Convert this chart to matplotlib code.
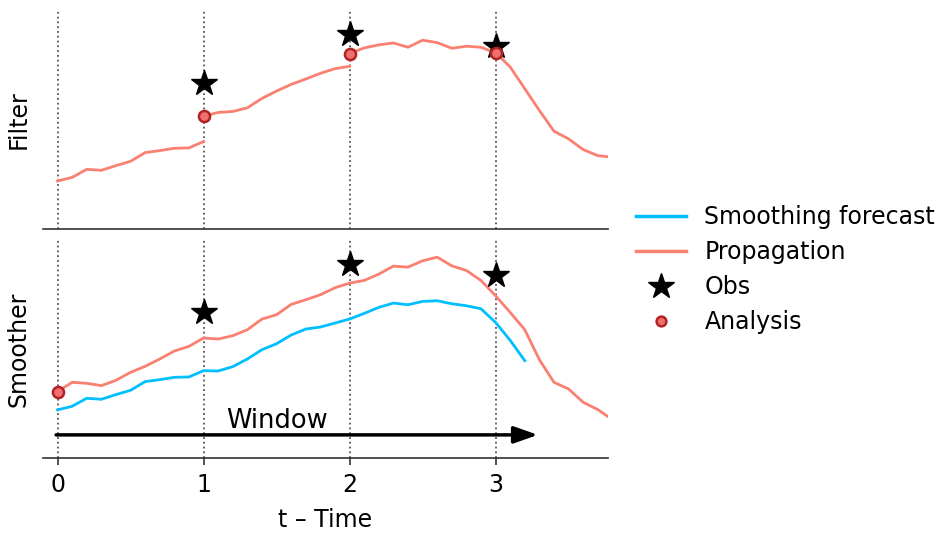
import numpy as np
import matplotlib
matplotlib.use("Agg")
import matplotlib.pyplot as plt
from matplotlib.lines import Line2D

# Observation and analysis times
obs_times = [1, 2, 3]
obs_values = [4.37, 5.83, 5.48]

# Filter: forecast segments between analyses (step 0.1 in time)
filt_seg1 = [1.44, 1.55, 1.79, 1.76, 1.90, 2.03, 2.29, 2.35, 2.42, 2.43, 2.62]          # t 0.0 .. 1.0
filt_seg2 = [3.38, 3.49, 3.52, 3.63, 3.91, 4.13, 4.33, 4.49, 4.66, 4.80, 4.87]          # t 1.0 .. 2.0
filt_seg3 = [5.25, 5.42, 5.51, 5.57, 5.44, 5.65, 5.58, 5.41, 5.47, 5.44, 5.27]          # t 2.0 .. 3.0
filt_seg4 = [5.28, 4.85, 4.20, 3.55, 2.93, 2.70, 2.38, 2.20, 2.15]                      # t 3.0 .. 3.8
filt_analysis = [3.38, 5.25, 5.28]                                                      # at t = 1, 2, 3

# Smoother
smooth_forecast = [1.44, 1.55, 1.79, 1.76, 1.90, 2.03, 2.29, 2.35, 2.42, 2.43, 2.62,
                   2.61, 2.74, 2.97, 3.25, 3.43, 3.69, 3.87, 3.93, 4.05, 4.17,
                   4.34, 4.52, 4.65, 4.60, 4.70, 4.72, 4.63, 4.57, 4.48, 4.07,
                   3.53, 2.92]                                                          # t 0.0 .. 3.2
smooth_prop = [1.99, 2.27, 2.24, 2.17, 2.33, 2.57, 2.75, 2.97, 3.21, 3.35, 3.60,
               3.57, 3.67, 3.85, 4.17, 4.30, 4.61, 4.75, 4.90, 5.11, 5.25,
               5.33, 5.52, 5.76, 5.73, 5.92, 6.03, 5.77, 5.63, 5.33, 4.87,
               4.37, 3.85, 2.95, 2.27, 2.07, 1.67, 1.45, 1.15]                          # t 0.0 .. 3.8
smooth_analysis_t = [0]
smooth_analysis = [1.99]

xticks = [0, 1, 2, 3]
dt = 0.1


def times(t0, values):
    return t0 + dt * np.arange(len(values))


prop_color = "#fa8072"
fc_color = "#00bfff"
obs_kw = dict(marker="*", color="k", ms=19, ls="none", zorder=5)
ana_kw = dict(marker="o", ms=8, mfc="#f07070", mec="#b22222", mew=1.8, ls="none", zorder=6)

plt.rcParams["font.family"] = ["DejaVu Sans"]
plt.rcParams["font.size"] = 17

fig = plt.figure(figsize=(9.4, 5.33), dpi=100)
ax1 = fig.add_axes([0.0457, 0.570, 0.6011, 0.411])
ax2 = fig.add_axes([0.0457, 0.141, 0.6011, 0.409], sharex=ax1, sharey=ax1)

# --- Filter panel ---
for t0, seg in zip([0, 1, 2, 3], [filt_seg1, filt_seg2, filt_seg3, filt_seg4]):
    ax1.plot(times(t0, seg), seg, color=prop_color, lw=2)
ax1.plot(obs_times, obs_values, **obs_kw)
ax1.plot(obs_times, filt_analysis, **ana_kw)

# --- Smoother panel ---
ax2.plot(times(0, smooth_forecast), smooth_forecast, color=fc_color, lw=2)
ax2.plot(times(0, smooth_prop), smooth_prop, color=prop_color, lw=2)
ax2.plot(obs_times, obs_values, **obs_kw)
ax2.plot(smooth_analysis_t, smooth_analysis, **ana_kw)

# Assimilation window arrow
ax2.annotate("", xy=(3.29, 0.69), xytext=(-0.01, 0.69),
             arrowprops=dict(arrowstyle="-|>,head_length=0.85,head_width=0.3",
                             color="k", lw=2.5, shrinkA=0, shrinkB=0))
ax2.text(1.5, 1.1, "Window", ha="center", va="center", fontsize=18.5)

for ax, name in [(ax1, "Filter"), (ax2, "Smoother")]:
    for t in xticks:
        ax.axvline(t, color="#555555", ls=":", lw=1.3, zorder=0)
    for side in ["top", "right", "left"]:
        ax.spines[side].set_visible(False)
    ax.spines["bottom"].set_color("#333333")
    ax.spines["bottom"].set_linewidth(1.2)
    ax.set_yticks([])
    ax.set_ylabel(name, labelpad=9)

ax1.set_xlim(-0.1, 3.77)
ax1.set_ylim(0, 6.55)
ax1.tick_params(axis="x", bottom=False, labelbottom=False)
ax2.set_xticks(xticks)
ax2.tick_params(axis="x", length=5, width=1.2, color="#333333", pad=6)
ax2.set_xlabel("t \u2013 Time", labelpad=8)

handles = [
    Line2D([], [], color=fc_color, lw=2.5, label="Smoothing forecast"),
    Line2D([], [], color=prop_color, lw=2.5, label="Propagation"),
    Line2D([], [], marker="*", color="k", ms=19, ls="none", label="Obs"),
    Line2D([], [], marker="o", ms=7, mfc="#f07070", mec="#b22222", mew=1.8, ls="none", label="Analysis"),
]
fig.legend(handles=handles, loc="center left", bbox_to_anchor=(0.654, 0.494),
           frameon=False, labelspacing=0.47, handlelength=2.1, handletextpad=0.8,
           fontsize=17)

fig.savefig("out.png", dpi=100)
